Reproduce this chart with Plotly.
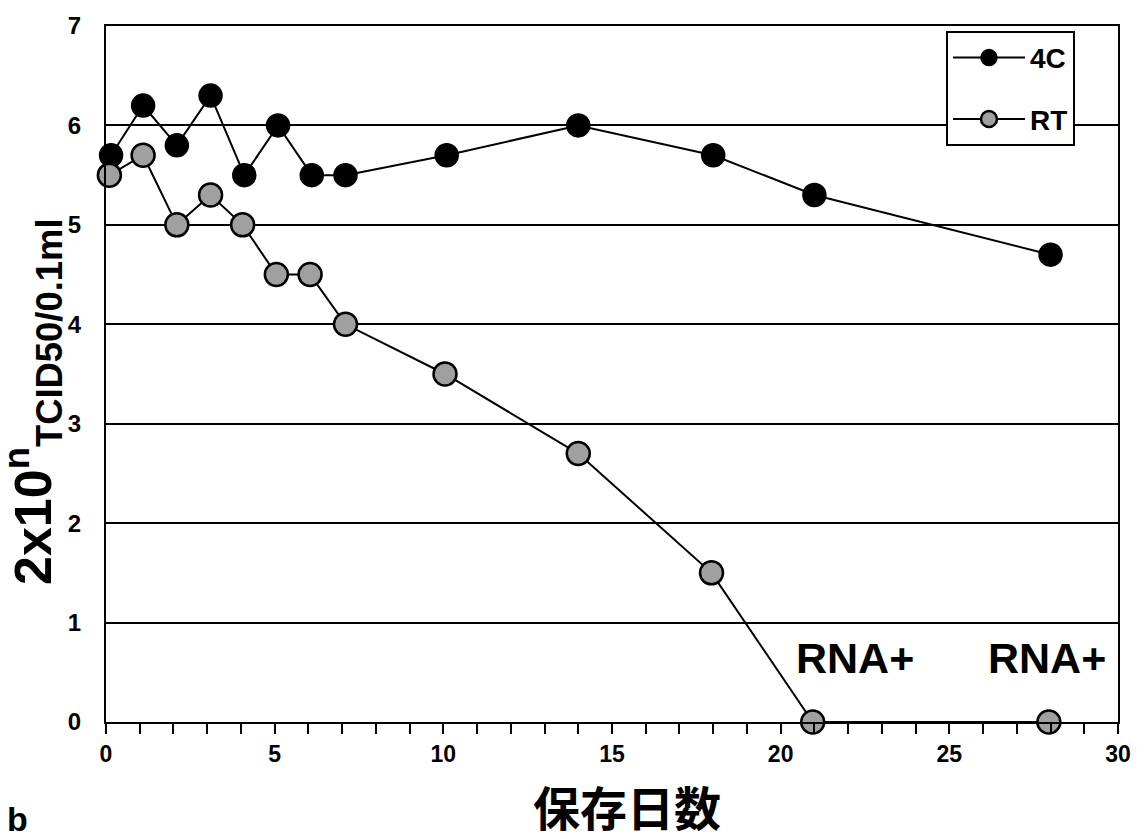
import plotly.graph_objects as go

# Data
days_4c = [0.15, 1.1, 2.1, 3.1, 4.1, 5.1, 6.1, 7.1, 10.1, 14.0, 18.0, 21.0, 28.0]
titer_4c = [5.7, 6.2, 5.8, 6.3, 5.5, 6.0, 5.5, 5.5, 5.7, 6.0, 5.7, 5.3, 4.7]
days_rt = [0.1, 1.1, 2.1, 3.1, 4.05, 5.05, 6.05, 7.1, 10.05, 14.0, 17.95, 20.95, 27.95]
titer_rt = [5.5, 5.7, 5.0, 5.3, 5.0, 4.5, 4.5, 4.0, 3.5, 2.7, 1.5, 0.0, 0.0]
series_names = ["4C", "RT"]
rna_label_x = [22.2, 27.9]
rna_label_y = [0.64, 0.64]
rna_label_text = ["RNA+", "RNA+"]
x_ticks = [0, 5, 10, 15, 20, 25, 30]
y_ticks = [0, 1, 2, 3, 4, 5, 6, 7]

BASE = "Liberation Sans, Arial, sans-serif"

fig = go.Figure()
fig.add_trace(go.Scatter(
    x=days_4c, y=titer_4c, name=series_names[0], mode="lines+markers",
    line=dict(color="black", width=2),
    marker=dict(size=23, color="black", line=dict(color="black", width=1.5)),
    cliponaxis=False, legendgroup="a"))
fig.add_trace(go.Scatter(
    x=days_rt, y=titer_rt, name=series_names[1], mode="lines+markers",
    line=dict(color="black", width=2),
    marker=dict(size=23, color="#a0a0a0", line=dict(color="black", width=2.5)),
    cliponaxis=False, legendgroup="b"))

annotations = []
for xv, yv, t in zip(rna_label_x, rna_label_y, rna_label_text):
    annotations.append(dict(x=xv, y=yv, xref="x", yref="y", text=t, showarrow=False,
                            xanchor="center", yanchor="middle",
                            font=dict(family=BASE, size=43, color="black", weight="bold")))

annotations.append(dict(
    x=-0.072, y=0.46, xref="paper", yref="paper", textangle=-90,
    text="2x10<sup>n</sup><sub>TCID50/0.1ml</sub>", showarrow=False,
    xanchor="center", yanchor="middle",
    font=dict(family=BASE, size=52, color="black", weight="bold")))

annotations.append(dict(
    x=0.5146, y=-0.12, xref="paper", yref="paper", text="保存日数", showarrow=False,
    xanchor="center", yanchor="middle",
    font=dict(family="Noto Sans CJK JP, Noto Sans CJK SC", size=47, color="black", weight="bold")))

annotations.append(dict(
    x=-0.087, y=-0.14, xref="paper", yref="paper", text="b", showarrow=False,
    xanchor="center", yanchor="middle",
    font=dict(family=BASE, size=34, color="black", weight="bold")))

fig.update_layout(
    width=1146, height=839,
    margin=dict(l=106, r=28, t=20, b=117),
    paper_bgcolor="white", plot_bgcolor="white",
    showlegend=True,
    legend=dict(x=0.9575, y=0.993, xanchor="right", yanchor="top",
                bgcolor="white", bordercolor="black", borderwidth=2,
                font=dict(family=BASE, size=28, color="black", weight="bold"),
                itemwidth=72, tracegroupgap=22),
    annotations=annotations,
    xaxis=dict(range=[0, 30], tickvals=x_ticks, ticks="outside", ticklen=10,
               tickcolor="black", tickwidth=1.5,
               minor=dict(dtick=1, ticks="outside", ticklen=10, tickcolor="black", tickwidth=1.5),
               showgrid=False, zeroline=False, showline=True, linecolor="black",
               linewidth=2, mirror=True,
               tickfont=dict(family=BASE, size=23, color="black", weight="bold")),
    yaxis=dict(range=[0, 7], tickvals=y_ticks, ticks="", showgrid=True,
               gridcolor="black", gridwidth=1.5, zeroline=False, showline=True,
               linecolor="black", linewidth=2, mirror=True, ticklabelstandoff=18,
               tickfont=dict(family=BASE, size=24, color="black", weight="bold")),
)

fig.write_html("out.html", config={"displayModeBar": False},
               post_script="document.body.style.margin='0';document.body.style.overflow='hidden';")
